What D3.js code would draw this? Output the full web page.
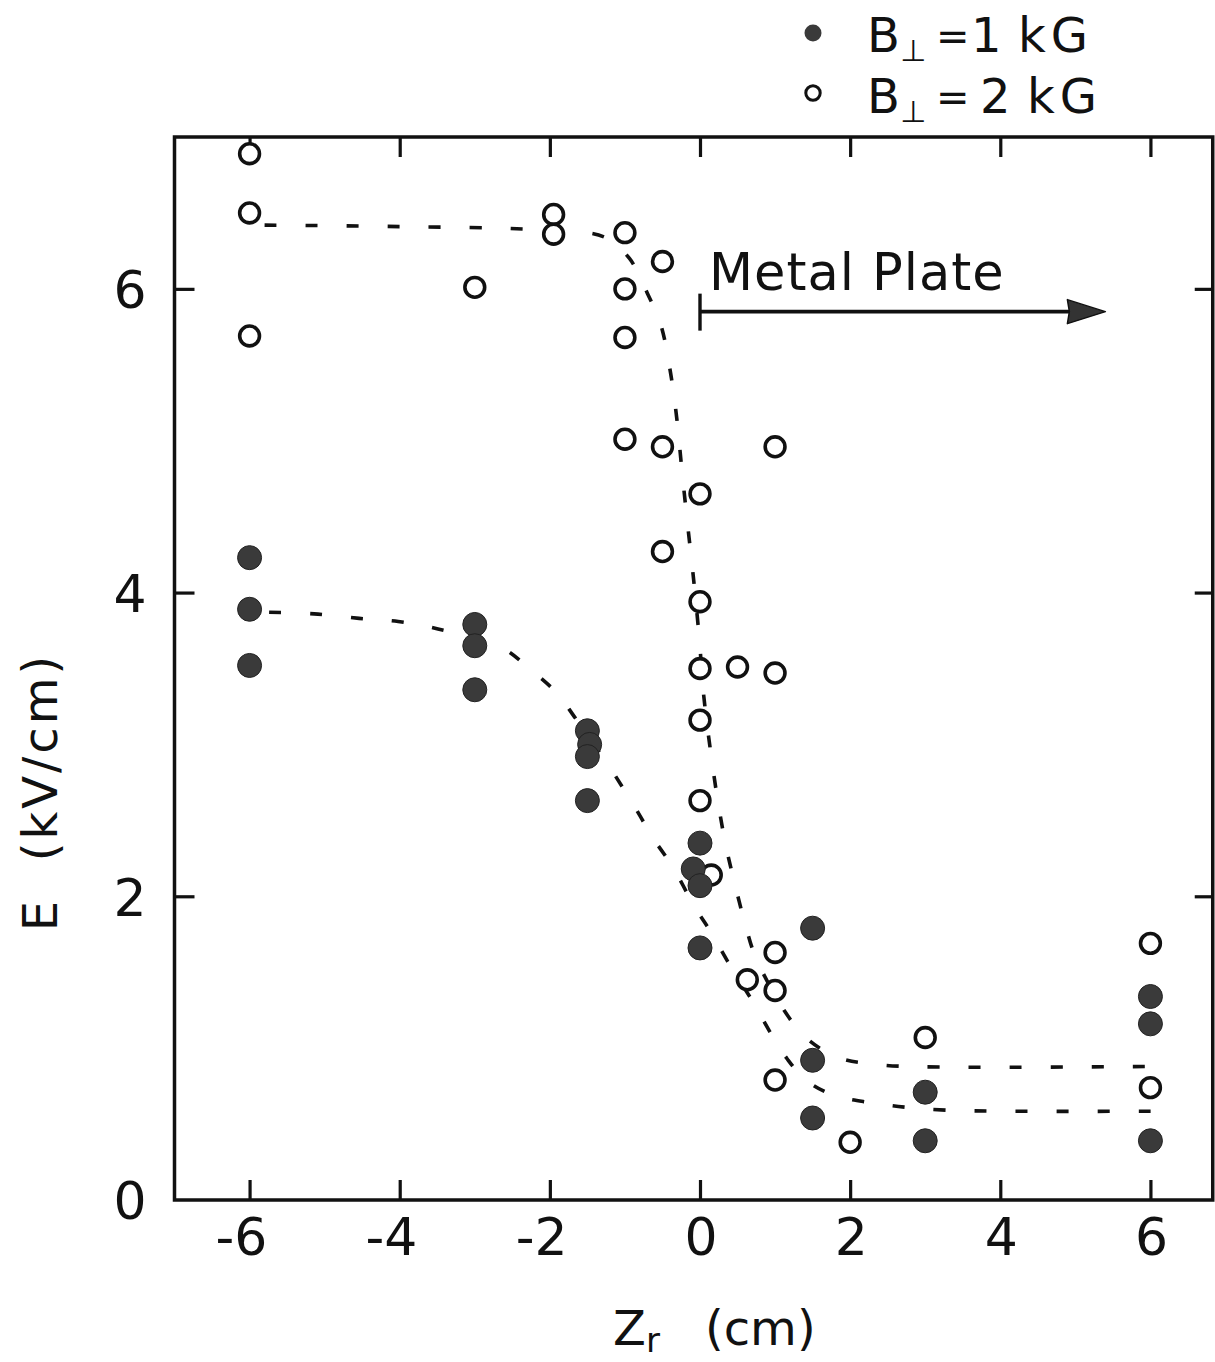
<!DOCTYPE html>
<html>
<head>
<meta charset="utf-8">
<script src="https://cdn.jsdelivr.net/npm/d3@7"></script>
<style>
  html, body { margin: 0; padding: 0; background: #fff; }
  svg { display: block; }
  text { font-family: "DejaVu Sans", sans-serif; fill: #111; }
</style>
</head>
<body>
<script>
// ---- data ----
const xTicks = [-6, -4, -2, 0, 2, 4, 6];
const yTicks = [0, 2, 4, 6];

// B_perp = 2 kG (open circles)
const zTwo = [-6, -6, -6, -3, -1.95, -1.95, -1, -0.5, -1, -1, -1, -0.5, 0, -0.5, 0, 0, 0.5, 1, 1, 0, 0, 0.15, 0.63, 1, 1, 1, 2, 3, 6, 6];
const eTwo = [6.89, 6.50, 5.69, 6.01, 6.49, 6.36, 6.37, 6.18, 6.0, 5.68, 5.01, 4.96, 4.65, 4.27, 3.94, 3.5, 3.51, 3.47, 4.96, 3.16, 2.63, 2.14, 1.45, 1.63, 1.38, 0.79, 0.38, 1.07, 1.69, 0.74];

// B_perp = 1 kG (filled circles)
const zOne = [-6, -6, -6, -3, -3, -3, -1.5, -1.47, -1.5, -1.5, 0, -0.09, 0, 0, 1.5, 1.5, 1.5, 3, 3, 6, 6, 6];
const eOne = [4.23, 3.89, 3.52, 3.79, 3.65, 3.36, 3.09, 3.0, 2.92, 2.63, 2.35, 2.18, 2.07, 1.66, 1.79, 0.92, 0.54, 0.71, 0.39, 1.34, 1.16, 0.39];

// dashed guide curves
const fitTwoZ = [-5.8, -4, -2.2, -1.27, -0.94, -0.70, -0.52, -0.39, -0.31, -0.24, -0.17, -0.09, -0.01, 0.05, 0.17, 0.25, 0.35, 0.46, 0.60, 0.74, 1.12, 1.41, 1.83, 2.40, 3.48, 6.1];
const fitTwoE = [6.42, 6.41, 6.39, 6.34, 6.20, 5.97, 5.76, 5.44, 5.15, 4.80, 4.47, 4.11, 3.70, 3.32, 2.85, 2.59, 2.32, 2.09, 1.82, 1.60, 1.25, 1.07, 0.94, 0.89, 0.875, 0.88];
const fitOneZ = [-5.74, -5.14, -4.54, -4.02, -3.49, -2.65, -2.25, -1.91, -1.67, -1.19, -0.86, -0.62, -0.36, -0.07, 0.15, 0.37, 0.71, 0.94, 1.16, 1.41, 1.78, 2.28, 2.76, 3.37, 6.1];
const fitOneE = [3.87, 3.86, 3.83, 3.81, 3.76, 3.64, 3.49, 3.34, 3.18, 2.84, 2.58, 2.38, 2.19, 1.93, 1.76, 1.57, 1.30, 1.10, 0.93, 0.79, 0.69, 0.64, 0.61, 0.59, 0.585];

// legend labels
const legendValues = ["1", "2"];

// annotation
const plateStart = 0, plateEnd = 5.4, plateE = 5.85;
const xDomainRight = 6.83;

// ---- drawing ----
const W = 1215, H = 1362;
const svg = d3.select("body").append("svg").attr("width", W).attr("height", H);
svg.append("rect").attr("width", W).attr("height", H).attr("fill", "#fff");

const x = d3.scaleLinear().domain([-7, 7]).range([174.5, 1225.5]);
const y = d3.scaleLinear().domain([0, 7]).range([1200, 137]);

const ink = "#111";
const dotFill = "#3a3a3a";

// frame
const x0 = x(-7), x1 = x(xDomainRight), yb = y(0), yt = y(7);
svg.append("rect").attr("x", x0).attr("y", yt).attr("width", x1 - x0).attr("height", yb - yt)
  .attr("fill", "none").attr("stroke", ink).attr("stroke-width", 3.5);

// bottom axis ticks and labels
const gBottom = svg.append("g").attr("transform", `translate(0,${yb})`)
  .call(d3.axisBottom(x).tickValues(xTicks).tickSizeInner(-20).tickSizeOuter(0).tickPadding(30)
    .tickFormat(d => d < 0 ? "-" + Math.abs(d) : String(d)));
gBottom.select(".domain").remove();
gBottom.selectAll(".tick line").attr("stroke", ink).attr("stroke-width", 3.2);
gBottom.selectAll(".tick text").attr("font-size", 52).attr("fill", ink)
  .attr("font-family", "DejaVu Sans, sans-serif")
  .attr("text-anchor", "end").attr("dx", "0.33em").attr("dy", "0.48em");

// top ticks
const gTop = svg.append("g").attr("transform", `translate(0,${yt})`)
  .call(d3.axisTop(x).tickValues(xTicks).tickSizeInner(-20).tickSizeOuter(0).tickFormat(""));
gTop.select(".domain").remove();
gTop.selectAll(".tick line").attr("stroke", ink).attr("stroke-width", 3.2);

// left axis
const gLeft = svg.append("g").attr("transform", `translate(${x0},0)`)
  .call(d3.axisLeft(y).tickValues(yTicks).tickSizeInner(-20).tickSizeOuter(0).tickPadding(28)
    .tickFormat(d3.format("d")));
gLeft.select(".domain").remove();
gLeft.selectAll(".tick line").attr("stroke", ink).attr("stroke-width", 3.2)
  .attr("opacity", d => d === 0 ? 0 : 1);
gLeft.selectAll(".tick text").attr("font-size", 52).attr("fill", ink)
  .attr("font-family", "DejaVu Sans, sans-serif").attr("dy", "0.36em");

// right ticks
const gRight = svg.append("g").attr("transform", `translate(${x1},0)`)
  .call(d3.axisRight(y).tickValues(yTicks.filter(d => d > 0)).tickSizeInner(-18).tickSizeOuter(0).tickFormat(""));
gRight.select(".domain").remove();
gRight.selectAll(".tick line").attr("stroke", ink).attr("stroke-width", 3.2);

// dashed curves
const line = d3.line().x(d => x(d[0])).y(d => y(d[1])).curve(d3.curveCatmullRom.alpha(0.5));
const fitTwo = fitTwoZ.map((z, i) => [z, fitTwoE[i]]);
const fitOne = fitOneZ.map((z, i) => [z, fitOneE[i]]);
[fitTwo, fitOne].forEach(pts => {
  svg.append("path").attr("d", line(pts)).attr("fill", "none").attr("stroke", ink)
    .attr("stroke-width", 3.6).attr("stroke-dasharray", "12,29");
});

// open circles (2 kG)
svg.append("g").selectAll("circle").data(zTwo.map((z, i) => [z, eTwo[i]])).join("circle")
  .attr("cx", d => x(d[0])).attr("cy", d => y(d[1])).attr("r", 9.9)
  .attr("fill", "#fff").attr("stroke", ink).attr("stroke-width", 3.6);

// filled circles (1 kG)
svg.append("g").selectAll("circle").data(zOne.map((z, i) => [z, eOne[i]])).join("circle")
  .attr("cx", d => x(d[0])).attr("cy", d => y(d[1])).attr("r", 12)
  .attr("fill", dotFill).attr("stroke", "#222").attr("stroke-width", 1);

// Metal plate annotation
const py = y(plateE);
svg.append("line").attr("x1", x(plateStart)).attr("x2", x(plateStart)).attr("y1", py - 18).attr("y2", py + 19)
  .attr("stroke", ink).attr("stroke-width", 3.4);
svg.append("line").attr("x1", x(plateStart)).attr("x2", x(plateEnd) - 30).attr("y1", py).attr("y2", py)
  .attr("stroke", ink).attr("stroke-width", 3.6);
const tip = x(plateEnd);
svg.append("path").attr("d", `M${tip},${py} L${tip - 38},${py - 12} L${tip - 36},${py} L${tip - 38},${py + 12} Z`)
  .attr("fill", "#333").attr("stroke", ink).attr("stroke-width", 1.5).attr("stroke-linejoin", "round");
svg.append("text").attr("x", x(plateStart) + 9).attr("y", py - 22)
  .attr("font-size", 51).attr("letter-spacing", 1).text("Metal Plate");

// legend
const lg = svg.append("g");
lg.append("circle").attr("cx", 813).attr("cy", 33).attr("r", 8.5).attr("fill", dotFill);
lg.append("circle").attr("cx", 813).attr("cy", 93).attr("r", 7.2).attr("fill", "#fff")
  .attr("stroke", ink).attr("stroke-width", 3);
legendValues.forEach((v, i) => {
  const by = 52 + i * 61;
  const vx = i === 0 ? 971 : 980;
  const t = lg.append("text").attr("x", 867).attr("y", by).attr("font-size", 48);
  t.append("tspan").text("B");
  t.append("tspan").attr("font-size", 30).attr("dy", 9).text("⊥");
  t.append("tspan").attr("dy", -11).attr("x", 936).attr("font-size", 40).text("=");
  t.append("tspan").attr("dy", 2).attr("x", vx).text(v);
  t.append("tspan").attr("x", vx + 47).attr("letter-spacing", 5).text("kG");
});

// axis titles
const xt = svg.append("text").attr("x", 613).attr("y", 1345).attr("font-size", 48);
xt.append("tspan").text("Z");
xt.append("tspan").attr("font-size", 34).attr("dy", 7).text("r");
xt.append("tspan").attr("dy", -7).attr("x", 705).text("(cm)");

svg.append("text").attr("transform", "translate(57,792) rotate(-90)")
  .attr("text-anchor", "middle").attr("font-size", 48).attr("letter-spacing", 3)
  .attr("xml:space", "preserve").text("E  (kV/cm)");
</script>
</body>
</html>
